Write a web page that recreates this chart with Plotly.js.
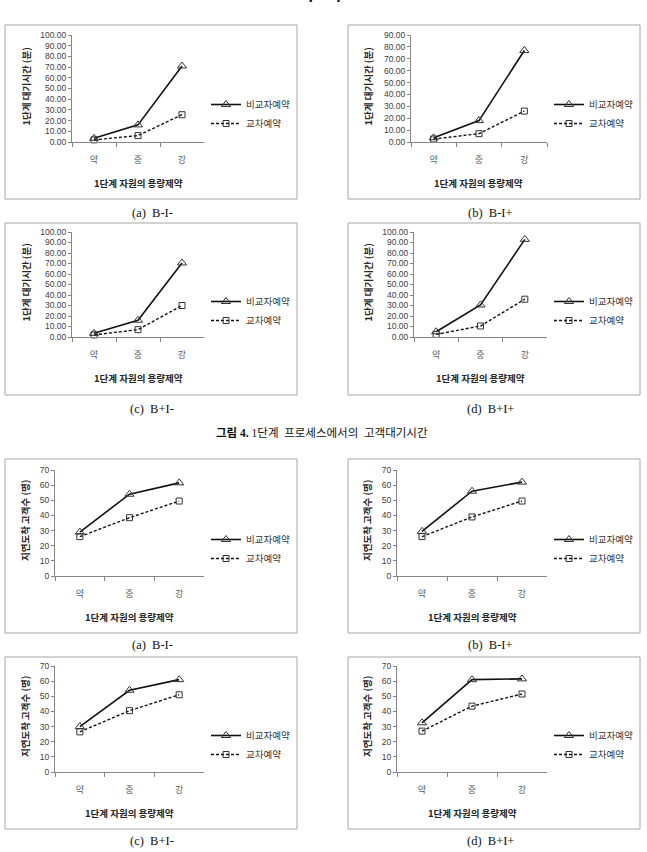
<!DOCTYPE html>
<html>
<head>
<meta charset="utf-8">
<script src="https://cdn.plot.ly/plotly-3.0.1.min.js"></script>
<style>
  html, body { margin: 0; padding: 0; background: #ffffff; }
  #chart { width: 647px; height: 852px; }
</style>
</head>
<body>
<div id="chart"></div>
<script>
// Capacity constraint levels of the stage-1 resource
const categories = ['약', '중', '강'];
const seriesNames = ['비교자예약', '교차예약'];
const scenarios = ['B-I-', 'B-I+', 'B+I-', 'B+I+'];
const panelLetters = ['(a)', '(b)', '(c)', '(d)'];

// Stage-1 waiting time (minutes)
const waitNonCrossA = [3.5, 16, 71];
const waitCrossA = [2, 6, 25.5];
const waitNonCrossB = [3.5, 18, 77];
const waitCrossB = [2.5, 7, 26];
const waitNonCrossC = [3.5, 16, 70.5];
const waitCrossC = [2, 7, 30];
const waitNonCrossD = [5, 30.5, 93];
const waitCrossD = [2.5, 10.5, 36];

// Number of late-arriving customers
const lateNonCrossA = [29, 54, 61.5];
const lateCrossA = [26, 38.5, 49.5];
const lateNonCrossB = [29.5, 56, 62];
const lateCrossB = [26, 39, 49.5];
const lateNonCrossC = [30, 54, 61];
const lateCrossC = [26.5, 40.5, 51];
const lateNonCrossD = [32.5, 61, 61.5];
const lateCrossD = [27, 43.5, 51.5];

// Axis ranges / tick labels
const waitRanges = [100, 90, 100, 100];
const lateRange = 70;
const waitTickFormat = '.2f';

const waitTitle = '1단계 대기시간 (분)';
const lateTitle = '지연도착 고객수 (명)';
const xTitle = '1단계 자원의 용량제약';
const figureCaption = '<b>그림 4.</b> 1단계  프로세스에서의  고객대기시간';
const headerText = '부  록';

const W = 647, H = 852;
const px = x => x / W;
const py = y => 1 - y / H;

const KR = '"Noto Sans CJK KR", "Noto Sans", sans-serif';
const NUM = '"Liberation Sans", Arial, sans-serif';
const SERIF = '"Liberation Serif", "Noto Sans CJK KR", serif';

// Page layout of the eight panels (pixel boxes)
const panels = [
  { plot: [72, 204, 35, 142],  frame: [5, 25, 297, 199],   ymax: waitRanges[0], yfmt: waitTickFormat, title: waitTitle, ytx: 25,  s1: waitNonCrossA, s2: waitCrossA, cap: 213 },
  { plot: [411, 547, 35, 142], frame: [348, 25, 640, 199], ymax: waitRanges[1], yfmt: waitTickFormat, title: waitTitle, ytx: 367, s1: waitNonCrossB, s2: waitCrossB, cap: 213 },
  { plot: [72, 204, 232, 337], frame: [5, 223, 297, 395],  ymax: waitRanges[2], yfmt: waitTickFormat, title: waitTitle, ytx: 25,  s1: waitNonCrossC, s2: waitCrossC, cap: 409 },
  { plot: [414, 547, 232, 337],frame: [348, 223, 640, 395],ymax: waitRanges[3], yfmt: waitTickFormat, title: waitTitle, ytx: 367, s1: waitNonCrossD, s2: waitCrossD, cap: 409 },
  { plot: [55, 204, 470, 576], frame: [5, 459, 297, 633],  ymax: lateRange, yfmt: 'd', title: lateTitle, ytx: 25,  s1: lateNonCrossA, s2: lateCrossA, cap: 645 },
  { plot: [397, 547, 470, 576],frame: [348, 459, 640, 633],ymax: lateRange, yfmt: 'd', title: lateTitle, ytx: 367, s1: lateNonCrossB, s2: lateCrossB, cap: 645 },
  { plot: [55, 204, 666, 772], frame: [5, 657, 297, 829],  ymax: lateRange, yfmt: 'd', title: lateTitle, ytx: 25,  s1: lateNonCrossC, s2: lateCrossC, cap: 841 },
  { plot: [397, 547, 666, 772],frame: [348, 657, 640, 829],ymax: lateRange, yfmt: 'd', title: lateTitle, ytx: 367, s1: lateNonCrossD, s2: lateCrossD, cap: 841 }
];

const traces = [];
const layout = {
  width: W, height: H,
  margin: { l: 0, r: 0, t: 0, b: 0 },
  paper_bgcolor: '#ffffff',
  plot_bgcolor: 'rgba(0,0,0,0)',
  showlegend: true,
  font: { family: KR, size: 9, color: '#404040' },
  shapes: [],
  annotations: []
};

const axisColor = '#868686';

panels.forEach((p, i) => {
  const n = i + 1;
  const xa = n === 1 ? 'x' : 'x' + n;
  const ya = n === 1 ? 'y' : 'y' + n;
  const lg = n === 1 ? 'legend' : 'legend' + n;
  const [x0, x1, yTop, yBot] = p.plot;
  const leftColumn = (i % 2 === 0);

  traces.push({
    x: categories, y: p.s1, name: seriesNames[0],
    xaxis: xa, yaxis: ya, legend: lg,
    type: 'scatter', mode: 'lines+markers',
    line: { color: '#111111', width: 1.6 },
    marker: { symbol: 'triangle-up-open', size: 8, color: '#333333', line: { width: 1 } },
    cliponaxis: false
  });
  traces.push({
    x: categories, y: p.s2, name: seriesNames[1],
    xaxis: xa, yaxis: ya, legend: lg,
    type: 'scatter', mode: 'lines+markers',
    line: { color: '#111111', width: 1.4, dash: '3px,2px' },
    marker: { symbol: 'square-open', size: 6, color: '#333333', line: { width: 1 } },
    cliponaxis: false
  });

  layout['xaxis' + (n === 1 ? '' : n)] = {
    domain: [px(x0), px(x1)],
    anchor: ya,
    type: 'category',
    range: [-0.5, 2.5],
    showline: true, linecolor: axisColor, linewidth: 1,
    ticks: 'outside', ticklen: 4, tickcolor: axisColor, tickwidth: 1,
    tickson: 'boundaries',
    showgrid: false, zeroline: false,
    ticklabelstandoff: 9,
    tickfont: { family: KR, size: 9, color: '#595959' },
    fixedrange: true
  };
  layout['yaxis' + (n === 1 ? '' : n)] = {
    domain: [py(yBot), py(yTop)],
    anchor: xa,
    range: [0, p.ymax],
    dtick: 10,
    tickformat: p.yfmt,
    showline: true, linecolor: axisColor, linewidth: 1,
    ticks: 'outside', ticklen: 3, tickcolor: axisColor, tickwidth: 1,
    showgrid: false, zeroline: false,
    tickfont: { family: NUM, size: 8.5, color: '#404040' },
    fixedrange: true
  };

  // legend block to the right of each plot
  layout[lg] = {
    x: px(leftColumn ? 206 : 549),
    y: py(yTop + 55),
    xanchor: 'left', yanchor: 'top',
    bgcolor: 'rgba(0,0,0,0)',
    borderwidth: 0,
    font: { family: KR, size: 9.5, color: '#333333' },
    tracegroupgap: 0,
    itemwidth: 30
  };

  // panel frame
  const [fx0, fy0, fx1, fy1] = p.frame;
  layout.shapes.push({
    type: 'rect', xref: 'paper', yref: 'paper',
    x0: px(fx0), x1: px(fx1), y0: py(fy1), y1: py(fy0),
    line: { color: '#a6a6a6', width: 1 }, fillcolor: 'rgba(0,0,0,0)', layer: 'below'
  });

  // y-axis title
  layout.annotations.push({
    xref: 'paper', yref: 'paper',
    x: px(p.ytx), y: py((yTop + yBot) / 2 - 2),
    text: '<b>' + p.title + '</b>', textangle: -90,
    showarrow: false, xanchor: 'center', yanchor: 'middle',
    font: { family: KR, size: 9.5, color: '#262626' }
  });
  // x-axis title
  layout.annotations.push({
    xref: 'paper', yref: 'paper',
    x: px((x0 + x1) / 2), y: py(yBot + 41),
    text: '<b>' + xTitle + '</b>',
    showarrow: false, xanchor: 'center', yanchor: 'middle',
    font: { family: KR, size: 9.5, color: '#262626' }
  });
  // panel caption
  layout.annotations.push({
    xref: 'paper', yref: 'paper',
    x: px(leftColumn ? 152 : 490), y: py(p.cap),
    text: panelLetters[i % 4] + '  ' + scenarios[i % 4],
    showarrow: false, xanchor: 'center', yanchor: 'middle',
    font: { family: SERIF, size: 12.5, color: '#111111' }
  });
});

// figure caption between the two groups
layout.annotations.push({
  xref: 'paper', yref: 'paper',
  x: px(322), y: py(433),
  text: figureCaption,
  showarrow: false, xanchor: 'center', yanchor: 'middle',
  font: { family: SERIF, size: 11.5, color: '#111111' }
});
// page header, running off the top edge of the page
layout.annotations.push({
  xref: 'paper', yref: 'paper',
  x: px(322), y: py(-8),
  text: '<b>' + headerText + '</b>',
  showarrow: false, xanchor: 'center', yanchor: 'middle',
  font: { family: KR, size: 17, color: '#111111' }
});

Plotly.newPlot('chart', traces, layout, { staticPlot: true, displayModeBar: false });
</script>
</body>
</html>
